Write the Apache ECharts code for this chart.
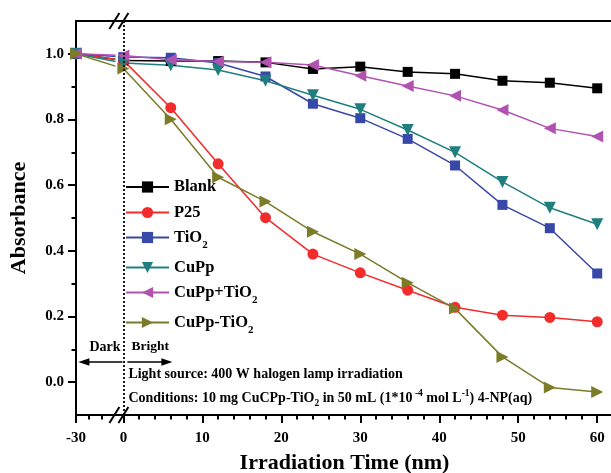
<!DOCTYPE html>
<html>
<head>
<meta charset="utf-8">
<script src="https://cdn.jsdelivr.net/npm/echarts@6/dist/echarts.min.js"></script>
<style>
  html, body { margin: 0; padding: 0; background: #fff; }
  #chart { width: 611px; height: 473px; }
</style>
</head>
<body>
<div id="chart"></div>
<script>
// Irradiation time (min); -30 is the start of the dark adsorption period
const times = [-30, 0, 6, 12, 18, 24, 30, 36, 42, 48, 54, 60];

// Absorbance (C/C0) for each sample
const blank        = [1.000, 0.980, 0.978, 0.978, 0.974, 0.954, 0.961, 0.945, 0.939, 0.918, 0.912, 0.895];
const p25          = [1.000, 0.980, 0.836, 0.665, 0.501, 0.390, 0.333, 0.280, 0.228, 0.204, 0.197, 0.184];
const tio2         = [1.000, 0.990, 0.988, 0.972, 0.931, 0.848, 0.804, 0.741, 0.660, 0.540, 0.469, 0.331];
const cupp         = [1.000, 0.972, 0.965, 0.951, 0.918, 0.874, 0.831, 0.768, 0.700, 0.610, 0.531, 0.481];
const cuppPlusTio2 = [1.000, 0.995, 0.982, 0.977, 0.974, 0.966, 0.933, 0.902, 0.872, 0.829, 0.773, 0.748];
const cuppTio2     = [1.000, 0.955, 0.801, 0.624, 0.550, 0.458, 0.390, 0.303, 0.224, 0.077, -0.016, -0.030];

const seriesNames = ['Blank', 'P25', 'TiO2', 'CuPp', 'CuPp+TiO2', 'CuPp-TiO2'];

// Axis ticks
const xMajorTicks = [-30, 0, 10, 20, 30, 40, 50, 60];
const xMinorTicks = [-22, -14, 2, 4, 6, 8, 12, 14, 16, 18, 22, 24, 26, 28, 32, 34, 36, 38,
                     42, 44, 46, 48, 52, 54, 56, 58];
const yMajorTicks = [0.0, 0.2, 0.4, 0.6, 0.8, 1.0];
const yMinorTicks = [0.1, 0.3, 0.5, 0.7, 0.9];

// The dark period is drawn compressed left of the axis break
const DARK_SCALE = 0.2;
const toAxis = t => (t < 0 ? t * DARK_SCALE : t);
const fromAxis = u => (u < 0 ? Math.round(u / DARK_SCALE) : Math.round(u));

const FONT = '"Liberation Serif", "Times New Roman", serif';
const BLACK = '#000000';

const styles = [
  { symbol: 'rect',     size: 10, rotate: 0,   color: '#000000' },
  { symbol: 'circle',   size: 11, rotate: 0,   color: '#f22b2b' },
  { symbol: 'rect',     size: 10, rotate: 0,   color: '#3848a8' },
  { symbol: 'triangle', size: 12, rotate: 180, color: '#1f7f7f' },
  { symbol: 'triangle', size: 12, rotate: 90,  color: '#b152b1' },
  { symbol: 'triangle', size: 12, rotate: -90, color: '#7b7b28' }
];

const allData = [blank, p25, tio2, cupp, cuppPlusTio2, cuppTio2];

const series = [];
allData.forEach((vals, i) => {
  const st = styles[i];
  const common = {
    type: 'line',
    xAxisIndex: 0,
    yAxisIndex: 0,
    symbol: st.symbol,
    symbolSize: st.size,
    symbolRotate: st.rotate,
    itemStyle: { color: st.color },
    lineStyle: { color: st.color, width: 1.5 },
    animation: false
  };
  // dark period segment (-30 → 0), interrupted by the axis break
  series.push(Object.assign({}, common, {
    name: seriesNames[i] + ' (dark)',
    z: 2,
    silent: true,
    data: [
      [toAxis(times[0]), vals[0]],
      { value: [toAxis(times[1]), vals[1]], symbol: 'none' }
    ]
  }));
  // irradiation period
  series.push(Object.assign({}, common, {
    name: seriesNames[i],
    z: 4,
    data: times.slice(1).map((t, j) => [toAxis(t), vals[j + 1]])
  }));
});

// light switched on at t = 0
series[1].markLine = {
  silent: true,
  symbol: ['none', 'none'],
  label: { show: false },
  lineStyle: { color: BLACK, type: [2, 2], width: 1.8 },
  data: [{ xAxis: 0 }]
};

const subRich = {
  s: { fontFamily: FONT, fontWeight: 'bold', fontSize: 11, lineHeight: 10, padding: [16, 0, 0, 0], color: BLACK }
};
const legendTops = [178.5, 204, 224, 259, 279, 309];
const legends = seriesNames.map((n, i) => ({
  data: [n],
  left: 125,
  top: legendTops[i],
  orient: 'vertical',
  padding: 0,
  itemWidth: 43,
  itemHeight: 14,
  selectedMode: false,
  formatter: name => name.replace('TiO2', 'TiO{s|2}'),
  textStyle: { fontFamily: FONT, fontWeight: 'bold', fontSize: 16.5, color: BLACK, rich: subRich }
}));

const xMin = toAxis(times[0]);
const xMax = 62;

const chart = echarts.init(document.getElementById('chart'));
chart.setOption({
  backgroundColor: '#ffffff',
  animation: false,
  grid: { left: 76, right: -2, top: 21, bottom: 58, outerBoundsMode: 'none', containLabel: false },
  legend: legends,
  xAxis: [
    {
      type: 'value', min: xMin, max: xMax, position: 'bottom',
      name: 'Irradiation Time (nm)', nameLocation: 'middle', nameGap: 37,
      nameTextStyle: { fontFamily: FONT, fontWeight: 'bold', fontSize: 22, color: BLACK },
      axisLine: { show: true, onZero: false, lineStyle: { color: BLACK, width: 2 } },
      axisTick: { show: true, length: 8, customValues: xMajorTicks.map(toAxis), lineStyle: { color: BLACK, width: 2 } },
      axisLabel: {
        customValues: xMajorTicks.map(toAxis), margin: 16,
        formatter: v => String(fromAxis(v)),
        fontFamily: FONT, fontWeight: 'bold', fontSize: 15, color: BLACK
      },
      splitLine: { show: false }
    },
    {
      type: 'value', min: xMin, max: xMax, position: 'bottom',
      axisLine: { show: false, onZero: false },
      axisTick: { show: true, length: 4.5, customValues: xMinorTicks.map(toAxis), lineStyle: { color: BLACK, width: 2 } },
      axisLabel: { show: false },
      splitLine: { show: false }
    },
    {
      type: 'value', min: xMin, max: xMax, position: 'top',
      axisLine: { show: true, onZero: false, lineStyle: { color: BLACK, width: 2 } },
      axisTick: { show: false },
      axisLabel: { show: false },
      splitLine: { show: false }
    }
  ],
  yAxis: [
    {
      type: 'value', min: -0.1, max: 1.1, position: 'left',
      name: 'Absorbance', nameLocation: 'middle', nameGap: 46,
      nameTextStyle: { fontFamily: FONT, fontWeight: 'bold', fontSize: 22, color: BLACK },
      axisLine: { show: true, onZero: false, lineStyle: { color: BLACK, width: 2 } },
      axisTick: { show: true, length: 8, customValues: yMajorTicks, lineStyle: { color: BLACK, width: 2 } },
      axisLabel: {
        customValues: yMajorTicks, margin: 12,
        formatter: v => v.toFixed(1),
        fontFamily: FONT, fontWeight: 'bold', fontSize: 15, color: BLACK
      },
      splitLine: { show: false }
    },
    {
      type: 'value', min: -0.1, max: 1.1, position: 'left',
      axisLine: { show: false, onZero: false },
      axisTick: { show: true, length: 4.5, customValues: yMinorTicks, lineStyle: { color: BLACK, width: 2 } },
      axisLabel: { show: false },
      splitLine: { show: false }
    }
  ],
  series: series
});

// Axis break marks, the gap in the curves, and the annotations
const px = (u, v) => chart.convertToPixel({ xAxisIndex: 0, yAxisIndex: 0 }, [u, v]);
const topY = px(0, 1.1)[1];
const botY = px(0, -0.1)[1];
const gapL = px(-1.0, 0)[0];
const gapR = px(-0.1, 0)[0];
const zeroX = px(0, 0)[0];

function slashes(cx, cy) {
  const h = 8;
  return [cx - 4.5, cx + 4.5].map(x => ({
    type: 'line', z: 20, silent: true,
    shape: { x1: x - 5, y1: cy + h, x2: x + 5, y2: cy - h },
    style: { stroke: BLACK, lineWidth: 2 }
  }));
}

function arrow(x1, x2, y) {
  const dir = Math.sign(x2 - x1);
  return [
    { type: 'line', z: 20, silent: true,
      shape: { x1: x1, y1: y, x2: x2 - dir * 8, y2: y },
      style: { stroke: BLACK, lineWidth: 1.5 } },
    { type: 'polygon', z: 20, silent: true,
      shape: { points: [[x2, y], [x2 - dir * 11, y - 3.8], [x2 - dir * 11, y + 3.8]] },
      style: { fill: BLACK } }
  ];
}

const textStyle = (text, x, y, size) => ({
  type: 'text', z: 20, silent: true, x: x, y: y,
  style: {
    text: text, fill: BLACK, fontFamily: FONT, fontWeight: 'bold', fontSize: size,
    textVerticalAlign: 'bottom',
    rich: {
      s: { fontFamily: FONT, fontWeight: 'bold', fontSize: 9.5, lineHeight: 9, padding: [11, 0, 0, 0], fill: BLACK },
      p: { fontFamily: FONT, fontWeight: 'bold', fontSize: 9.5, lineHeight: 9, padding: [0, 0, 9, 0], fill: BLACK }
    }
  }
});

const graphics = [
  { type: 'rect', z: 3, silent: true,
    shape: { x: gapL, y: topY + 3, width: gapR - gapL, height: botY - topY - 6 },
    style: { fill: '#ffffff' } }
]
  .concat(slashes(zeroX - 4.5, topY))
  .concat(slashes(zeroX - 4.5, botY))
  .concat(arrow(zeroX - 1, zeroX - 45, 362))
  .concat(arrow(zeroX + 4, zeroX + 49, 362))
  .concat([
    textStyle('Dark', zeroX - 34, 354, 14),
    textStyle('Bright', zeroX + 8, 354, 13.5),
    textStyle('Light source: 400 W halogen lamp irradiation', zeroX + 5, 381, 14),
    textStyle('Conditions: 10 mg CuCPp-TiO{s|2} in 50 mL (1*10{p| -4} mol L{p|-1}) 4-NP(aq)', zeroX + 5, 405, 14)
  ]);

chart.setOption({ graphic: { elements: graphics } });
</script>
</body>
</html>
